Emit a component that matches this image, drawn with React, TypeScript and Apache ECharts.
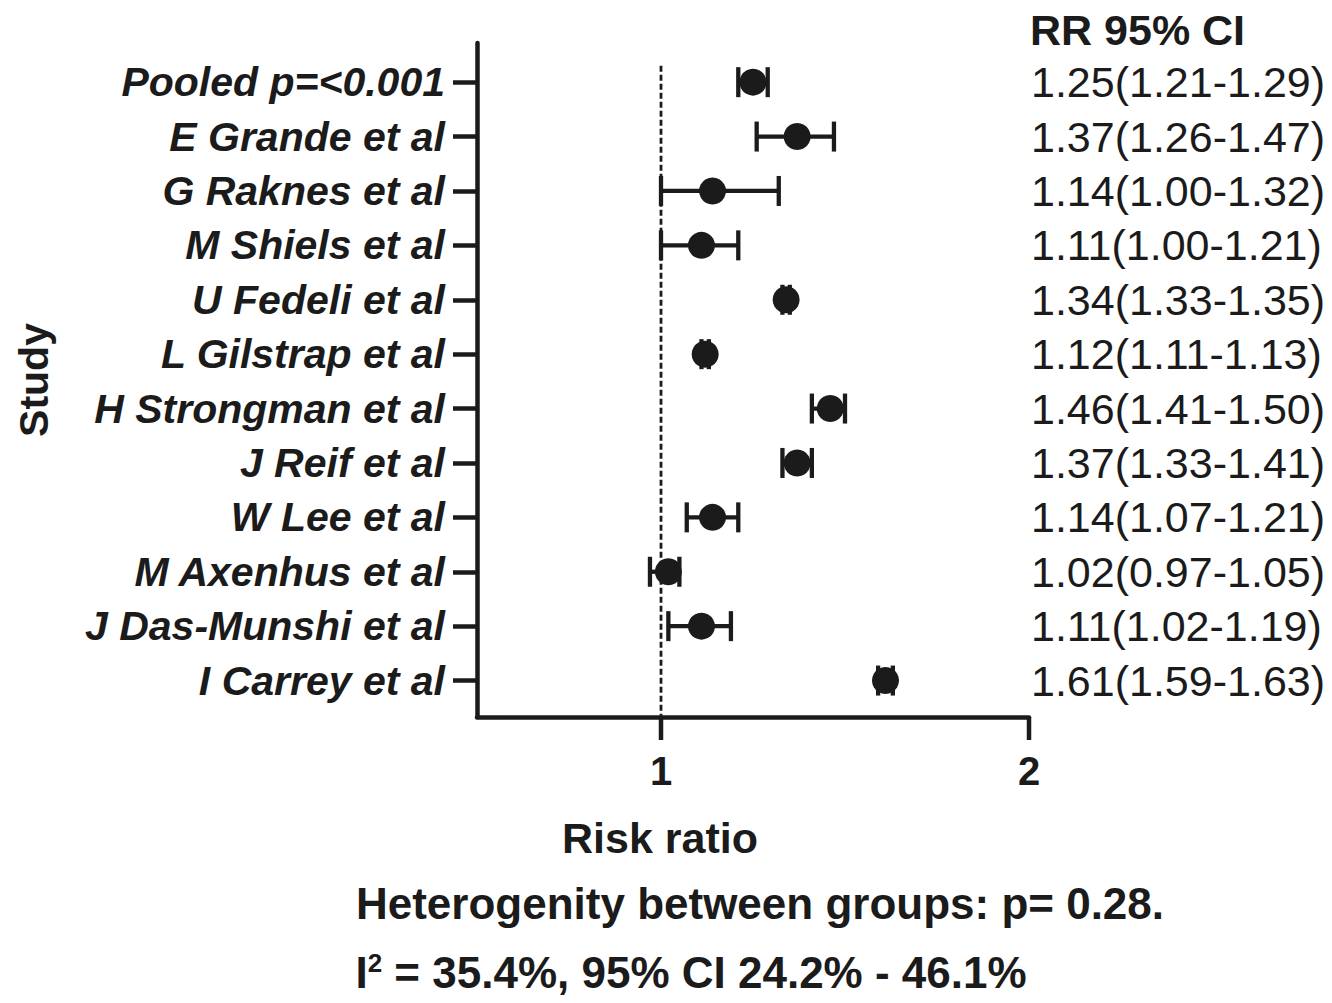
import React, { useEffect, useRef } from "react";
import * as echarts from "echarts";

const studies = [
  "Pooled p=<0.001",
  "E Grande et al",
  "G Raknes et al",
  "M Shiels et al",
  "U Fedeli et al",
  "L Gilstrap et al",
  "H Strongman et al",
  "J Reif et al",
  "W Lee et al",
  "M Axenhus et al",
  "J Das-Munshi et al",
  "I Carrey et al",
];
const rr = [1.25, 1.37, 1.14, 1.11, 1.34, 1.12, 1.46, 1.37, 1.14, 1.02, 1.11, 1.61];
const ciLow = [1.21, 1.26, 1.0, 1.0, 1.33, 1.11, 1.41, 1.33, 1.07, 0.97, 1.02, 1.59];
const ciHigh = [1.29, 1.47, 1.32, 1.21, 1.35, 1.13, 1.5, 1.41, 1.21, 1.05, 1.19, 1.63];
const xTickValues = [1, 2];
const xMin = 0.5;
const xMax = 2;
const refValue = 1;

const INK = "#1b1b1b";
const SANS = "'Liberation Sans', Arial, sans-serif";

export default function App() {
  const ref = useRef<HTMLDivElement>(null);

  useEffect(() => {
    document.body.style.margin = "0";
    const chart = echarts.init(ref.current!, null, { renderer: "svg" });
    const rows = studies.map((_, i) => i);
    const yMin = -0.72;
    const yMax = 11.67;
    const rightLabels = rr.map(
      (v, i) => `${v.toFixed(2)}(${ciLow[i].toFixed(2)}-${ciHigh[i].toFixed(2)})`
    );

    const option: any = {
      animation: false,
      backgroundColor: "#ffffff",
      grid: {
        left: 477,
        right: 303,
        top: 43,
        bottom: 286,
        containLabel: false,
        outerBoundsMode: "none",
      },
      xAxis: {
        type: "value",
        min: xMin,
        max: xMax,
        splitLine: { show: false },
        axisLine: { show: true, onZero: false, lineStyle: { color: INK, width: 4.5 } },
        axisTick: { show: false },
        axisLabel: {
          customValues: xTickValues,
          margin: 34,
          color: INK,
          fontFamily: SANS,
          fontWeight: "bold",
          fontSize: 40,
          formatter: (v: number) => String(v),
        },
      },
      yAxis: [
        {
          type: "value",
          inverse: true,
          min: yMin,
          max: yMax,
          splitLine: { show: false },
          axisLine: { show: true, onZero: false, lineStyle: { color: INK, width: 4.5 } },
          axisTick: {
            show: true,
            length: 24,
            customValues: rows,
            lineStyle: { color: INK, width: 4.5 },
          },
          axisLabel: {
            customValues: rows,
            margin: 32,
            color: INK,
            fontFamily: SANS,
            fontWeight: "bold",
            fontStyle: "italic",
            fontSize: 41,
            formatter: (v: number) => studies[Math.round(v)] ?? "",
          },
          name: "Study",
          nameLocation: "middle",
          nameRotate: 90,
          nameGap: 423,
          nameTextStyle: {
            color: INK,
            fontFamily: SANS,
            fontWeight: "bold",
            fontSize: 41,
          },
        },
        {
          type: "value",
          inverse: true,
          position: "right",
          min: yMin,
          max: yMax,
          splitLine: { show: false },
          axisLine: { show: false },
          axisTick: { show: false },
          axisLabel: {
            customValues: rows,
            margin: 2,
            color: INK,
            fontFamily: SANS,
            fontSize: 43,
            align: "left",
            formatter: (v: number) => rightLabels[Math.round(v)] ?? "",
          },
        },
      ],
      series: [
        {
          type: "line",
          silent: true,
          symbol: "none",
          data: [
            [refValue, -0.3],
            [refValue, yMax],
          ],
          lineStyle: { color: INK, width: 2.8, type: [6, 3] },
          z: 1,
        },
        {
          type: "custom",
          silent: true,
          z: 5,
          data: rows.map((i) => [rr[i], i, ciLow[i], ciHigh[i]]),
          encode: { x: 0, y: 1 },
          renderItem: (params: any, api: any) => {
            const y = api.value(1);
            const c = api.coord([api.value(0), y]);
            const lo = api.coord([api.value(2), y]);
            const hi = api.coord([api.value(3), y]);
            const capH = 15;
            const ls = { stroke: INK, lineWidth: 4.3 };
            return {
              type: "group",
              children: [
                { type: "line", shape: { x1: lo[0], y1: c[1], x2: hi[0], y2: c[1] }, style: ls },
                { type: "line", shape: { x1: lo[0], y1: c[1] - capH, x2: lo[0], y2: c[1] + capH }, style: ls },
                { type: "line", shape: { x1: hi[0], y1: c[1] - capH, x2: hi[0], y2: c[1] + capH }, style: ls },
                { type: "circle", shape: { cx: c[0], cy: c[1], r: 13.5 }, style: { fill: INK } },
              ],
            };
          },
        },
      ],
      graphic: [
        {
          id: "hdr",
          type: "text",
          x: 1030,
          y: 30,
          style: {
            text: "RR 95% CI",
            fill: INK,
            font: `bold 43px ${SANS}`,
            textAlign: "left",
            textVerticalAlign: "middle",
          },
        },
        {
          id: "xname",
          type: "text",
          x: 660,
          y: 838,
          style: {
            text: "Risk ratio",
            fill: INK,
            font: `bold 43px ${SANS}`,
            textAlign: "center",
            textVerticalAlign: "middle",
          },
        },
        {
          id: "het",
          type: "text",
          x: 760,
          y: 903,
          style: {
            text: "Heterogenity between groups: p= 0.28.",
            fill: INK,
            font: `bold 44px ${SANS}`,
            textAlign: "center",
            textVerticalAlign: "middle",
          },
        },
        {
          id: "i2",
          type: "text",
          x: 691,
          y: 972,
          style: {
            text: "{a|I}{s|2}{a| = 35.4%, 95% CI 24.2% - 46.1%}",
            textAlign: "center",
            textVerticalAlign: "middle",
            rich: {
              a: { fill: INK, font: `bold 44px ${SANS}`, verticalAlign: "bottom" },
              s: { fill: INK, font: `bold 26px ${SANS}`, verticalAlign: "top", padding: [0, 0, 14, 0] },
            },
          },
        },
      ],
    };

    chart.setOption(option);

    // x-axis tick marks at the labelled values, positioned through the axis scale
    const tickEls = xTickValues.map((v, k) => {
      const p = chart.convertToPixel({ xAxisIndex: 0, yAxisIndex: 0 }, [v, yMax]) as number[];
      return {
        id: `xtick${k}`,
        type: "line",
        z: 10,
        shape: { x1: p[0], y1: p[1], x2: p[0], y2: p[1] + 23 },
        style: { stroke: INK, lineWidth: 4.5 },
      };
    });
    chart.setOption({ graphic: tickEls });

    return () => chart.dispose();
  }, []);

  return (
    <div
      ref={ref}
      style={{ position: "absolute", left: 0, top: 0, width: 1332, height: 1003, background: "#fff" }}
    />
  );
}
